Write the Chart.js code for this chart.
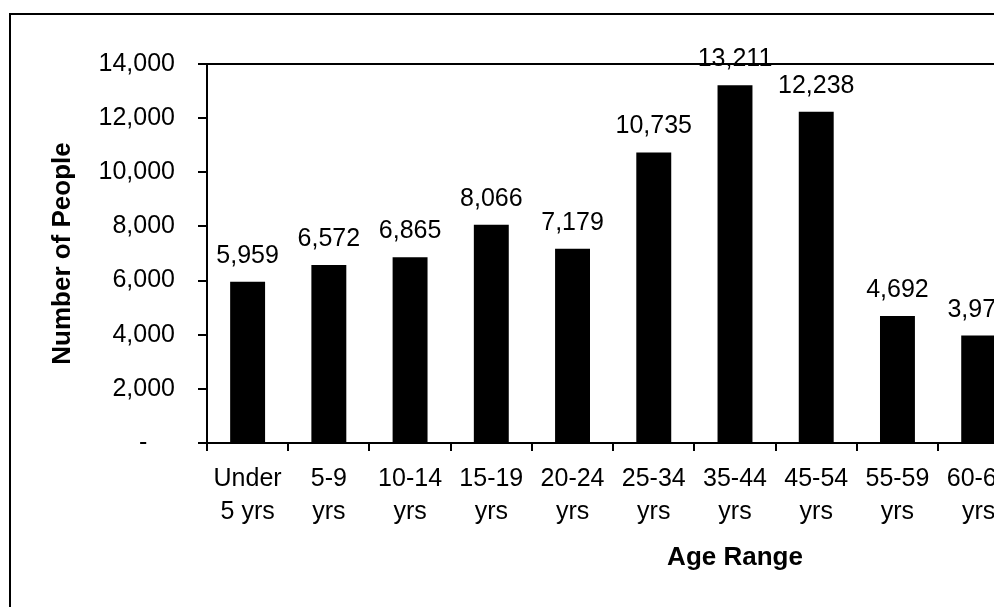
<!DOCTYPE html>
<html>
<head>
<meta charset="utf-8">
<script src="https://cdn.jsdelivr.net/npm/chart.js@4.4.0/dist/chart.umd.min.js"></script>
<style>
  html, body { margin: 0; padding: 0; background: #fff; overflow: hidden; }
  #wrap { width: 994px; height: 607px; overflow: hidden; position: relative; }
  #ageChart { position: absolute; left: 0; top: 0; }
</style>
</head>
<body>
<div id="wrap"><canvas id="ageChart" width="1300" height="620"></canvas></div>
<script>
  // age groups (the picture is cropped on the right, last groups are off screen)
  var age_labels = [
    ["Under", "5 yrs"], ["5-9", "yrs"], ["10-14", "yrs"], ["15-19", "yrs"],
    ["20-24", "yrs"], ["25-34", "yrs"], ["35-44", "yrs"], ["45-54", "yrs"],
    ["55-59", "yrs"], ["60-64", "yrs"], ["65-74", "yrs"], ["75-84", "yrs"], ["85+", "yrs"]
  ];
  var people = [5959, 6572, 6865, 8066, 7179, 10735, 13211, 12238, 4692, 3970, null, null, null];
  var y_min = 0;
  var y_max = 14000;
  var y_step = 2000;

  Chart.defaults.font.family = '"Liberation Sans", Arial, sans-serif';
  Chart.defaults.color = '#000';

  // outer frame + plot area box
  var frame = {
    id: 'frame',
    beforeDraw: function(chart) {
      var ctx = chart.ctx;
      ctx.save();
      ctx.fillStyle = '#fff';
      ctx.fillRect(0, 0, chart.width, chart.height);
      ctx.strokeStyle = '#000';
      ctx.lineWidth = 2;
      ctx.strokeRect(10, 14, chart.width - 20, chart.height + 20);
      ctx.restore();
    },
    afterDraw: function(chart) {
      var a = chart.chartArea;
      var ctx = chart.ctx;
      ctx.save();
      ctx.strokeStyle = '#000';
      ctx.lineWidth = 2;
      ctx.beginPath();
      ctx.moveTo(a.left, a.top);
      ctx.lineTo(a.right, a.top);
      ctx.lineTo(a.right, a.bottom);
      ctx.stroke();
      ctx.restore();
    }
  };

  // value labels above bars
  var barLabels = {
    id: 'barLabels',
    afterDatasetsDraw: function(chart) {
      var ctx = chart.ctx;
      var meta = chart.getDatasetMeta(0);
      ctx.save();
      ctx.font = '25px "Liberation Sans", Arial, sans-serif';
      ctx.fillStyle = '#000';
      ctx.textAlign = 'center';
      ctx.textBaseline = 'alphabetic';
      meta.data.forEach(function(bar, i) {
        if (people[i] == null) return;
        ctx.fillText(people[i].toLocaleString('en-US'), bar.x, bar.y - 19);
      });
      ctx.restore();
    }
  };

  var ctxB = document.getElementById('ageChart').getContext('2d');
  var ageChart = new Chart(ctxB, {
    type: 'bar',
    data: {
      labels: age_labels,
      datasets: [{
        label: 'Number of People',
        data: people,
        backgroundColor: '#000',
        borderWidth: 0,
        categoryPercentage: 1,
        barPercentage: 0.43
      }]
    },
    options: {
      responsive: false,
      animation: false,
      devicePixelRatio: 1,
      layout: { padding: { top: 64, right: 37, bottom: 0, left: 0 } },
      plugins: {
        legend: { display: false },
        tooltip: { enabled: false }
      },
      scales: {
        x: {
          offset: true,
          grid: { display: true, drawOnChartArea: false, drawTicks: true, tickLength: 8, color: '#000', lineWidth: 2, offset: true },
          border: { display: true, color: '#000', width: 2 },
          ticks: { font: { size: 25, lineHeight: 1.32 }, padding: 12, autoSkip: false, maxRotation: 0, minRotation: 0 },
          title: { display: true, text: 'Age Range', font: { size: 26, weight: 'bold' }, padding: { top: 0, bottom: 47 } },
          afterFit: function(scale) { scale.height = 177; }
        },
        y: {
          min: y_min,
          max: y_max,
          grid: { drawOnChartArea: false, drawTicks: true, tickLength: 9, color: '#000', lineWidth: 2 },
          border: { display: true, color: '#000', width: 2 },
          ticks: {
            stepSize: y_step,
            padding: 23,
            font: { size: 25 },
            callback: function(v) { return v === 0 ? '-    ' : v.toLocaleString('en-US'); }
          },
          title: { display: true, text: 'Number of People', font: { size: 26, weight: 'bold' }, padding: { top: 47, bottom: 0 } },
          afterFit: function(scale) { scale.width = 207; }
        }
      }
    },
    plugins: [frame, barLabels]
  });
</script>
</body>
</html>
